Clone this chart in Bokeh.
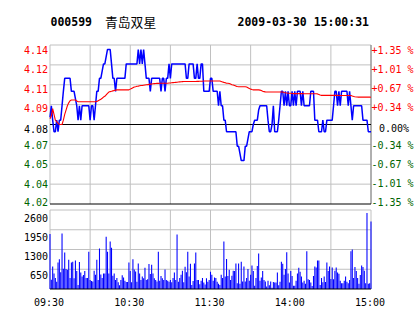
from bokeh.plotting import figure
from bokeh.models import Range1d
from bokeh.embed import file_html
from bokeh.resources import INLINE
from bokeh.core.properties import value

# ---------------- data ----------------
stock_code = "000599"
stock_name = "青岛双星"
stamp = "2009-03-30 15:00:31"
pre_close = 4.08

time_labels = ["09:30", "10:30", "11:30", "14:00", "15:00"]
time_label_minutes = [0, 60, 120, 180, 240]
grid_minutes = [0, 30, 60, 90, 120, 150, 180, 210, 240]

pct_levels = [1.35, 1.01, 0.67, 0.34, 0.00, -0.34, -0.67, -1.01, -1.35]
price_tick_labels = ["4.14", "4.12", "4.11", "4.09", "4.08", "4.07", "4.05", "4.04", "4.02"]
pct_tick_labels = ["+1.35 %", "+1.01 %", "+0.67 %", "+0.34 %", "0.00%",
                   "-0.34 %", "-0.67 %", "-1.01 %", "-1.35 %"]
vol_ticks = [650, 1300, 1950, 2600]
vol_tick_labels = ["650", "1300", "1950", "2600"]

price = [
    4.085, 4.093, 4.083, 4.075, 4.075, 4.083, 4.075, 4.083, 4.083, 4.093,
    4.103, 4.112, 4.112, 4.112, 4.112, 4.112, 4.103, 4.103, 4.103, 4.098,
    4.093, 4.083, 4.093, 4.083, 4.093, 4.093, 4.093, 4.093, 4.093, 4.093,
    4.083, 4.093, 4.093, 4.083, 4.093, 4.103, 4.103, 4.112, 4.112, 4.117,
    4.122, 4.122, 4.127, 4.132, 4.132, 4.132, 4.122, 4.112, 4.112, 4.103,
    4.112, 4.112, 4.112, 4.112, 4.112, 4.112, 4.112, 4.122, 4.122, 4.122,
    4.122, 4.122, 4.122, 4.122, 4.122, 4.122, 4.132, 4.122, 4.132, 4.122,
    4.132, 4.122, 4.112, 4.112, 4.112, 4.103, 4.112, 4.112, 4.112, 4.112,
    4.112, 4.112, 4.112, 4.103, 4.112, 4.112, 4.103, 4.112, 4.112, 4.122,
    4.112, 4.122, 4.122, 4.122, 4.122, 4.122, 4.122, 4.122, 4.122, 4.122,
    4.122, 4.122, 4.112, 4.112, 4.122, 4.122, 4.122, 4.122, 4.112, 4.112,
    4.122, 4.112, 4.112, 4.122, 4.122, 4.103, 4.103, 4.103, 4.103, 4.103,
    4.112, 4.112, 4.103, 4.103, 4.103, 4.103, 4.093, 4.103, 4.093, 4.093,
    4.083, 4.083, 4.075, 4.075, 4.075, 4.075, 4.075, 4.075, 4.075, 4.075,
    4.065, 4.065, 4.060, 4.055, 4.055, 4.055, 4.065, 4.065, 4.070, 4.075,
    4.075, 4.075, 4.080, 4.083, 4.083, 4.083, 4.090, 4.093, 4.093, 4.093,
    4.093, 4.093, 4.093, 4.083, 4.075, 4.075, 4.080, 4.093, 4.075, 4.075,
    4.075, 4.083, 4.093, 4.103, 4.103, 4.093, 4.103, 4.093, 4.103, 4.093,
    4.093, 4.103, 4.093, 4.103, 4.093, 4.103, 4.103, 4.103, 4.093, 4.103,
    4.093, 4.093, 4.093, 4.093, 4.093, 4.103, 4.103, 4.103, 4.083, 4.083,
    4.083, 4.075, 4.075, 4.075, 4.083, 4.075, 4.075, 4.083, 4.083, 4.083,
    4.083, 4.083, 4.093, 4.103, 4.103, 4.093, 4.103, 4.093, 4.103, 4.103,
    4.103, 4.103, 4.103, 4.093, 4.103, 4.093, 4.083, 4.093, 4.093, 4.093,
    4.093, 4.093, 4.093, 4.093, 4.083, 4.083, 4.083, 4.083, 4.075, 4.075,
    4.075,
]

avg_price = [
    4.0840, 4.0860, 4.0910, 4.0870, 4.0830, 4.0820, 4.0810, 4.0800, 4.0800, 4.0800,
    4.0830, 4.0870, 4.0900, 4.0930, 4.0950, 4.0965, 4.0970, 4.0970, 4.0970, 4.0970,
    4.0962, 4.0958, 4.0958, 4.0958, 4.0958, 4.0958, 4.0958, 4.0958, 4.0958, 4.0958,
    4.0958, 4.0958, 4.0958, 4.0958, 4.0958, 4.0960, 4.0965, 4.0970, 4.0975, 4.0982,
    4.0990, 4.0995, 4.1005, 4.1015, 4.1025, 4.1028, 4.1030, 4.1033, 4.1036, 4.1038,
    4.1040, 4.1040, 4.1040, 4.1040, 4.1040, 4.1040, 4.1040, 4.1040, 4.1040, 4.1040,
    4.1045, 4.1050, 4.1055, 4.1060, 4.1062, 4.1065, 4.1066, 4.1068, 4.1070, 4.1070,
    4.1072, 4.1074, 4.1075, 4.1076, 4.1078, 4.1080, 4.1080, 4.1082, 4.1083, 4.1084,
    4.1085, 4.1085, 4.1086, 4.1086, 4.1086, 4.1086, 4.1086, 4.1086, 4.1086, 4.1087,
    4.1088, 4.1089, 4.1090, 4.1091, 4.1092, 4.1093, 4.1094, 4.1095, 4.1096, 4.1097,
    4.1098, 4.1098, 4.1098, 4.1098, 4.1098, 4.1098, 4.1098, 4.1098, 4.1098, 4.1098,
    4.1099, 4.1099, 4.1100, 4.1100, 4.1100, 4.1101, 4.1101, 4.1101, 4.1101, 4.1101,
    4.1101, 4.1101, 4.1101, 4.1101, 4.1101, 4.1101, 4.1101, 4.1101, 4.1098, 4.1095,
    4.1092, 4.1090, 4.1086, 4.1086, 4.1084, 4.1080, 4.1076, 4.1074, 4.1070, 4.1066,
    4.1063, 4.1062, 4.1062, 4.1062, 4.1062, 4.1062, 4.1062, 4.1060, 4.1055, 4.1050,
    4.1045, 4.1042, 4.1040, 4.1040, 4.1040, 4.1040, 4.1040, 4.1038, 4.1035, 4.1030,
    4.1028, 4.1026, 4.1025, 4.1025, 4.1025, 4.1025, 4.1025, 4.1025, 4.1025, 4.1025,
    4.1025, 4.1025, 4.1025, 4.1025, 4.1025, 4.1022, 4.1020, 4.1018, 4.1017, 4.1017,
    4.1016, 4.1015, 4.1014, 4.1014, 4.1014, 4.1014, 4.1014, 4.1014, 4.1014, 4.1014,
    4.1013, 4.1013, 4.1013, 4.1013, 4.1013, 4.1013, 4.1013, 4.1013, 4.1013, 4.1013,
    4.1012, 4.1008, 4.1004, 4.1002, 4.1002, 4.1002, 4.1002, 4.1002, 4.1002, 4.1002,
    4.1002, 4.1002, 4.1002, 4.1002, 4.1002, 4.1002, 4.1001, 4.1001, 4.1001, 4.1001,
    4.1001, 4.1001, 4.1001, 4.1001, 4.1001, 4.1001, 4.0997, 4.0994, 4.0992, 4.0991,
    4.0990, 4.0990, 4.0990, 4.0990, 4.0990, 4.0990, 4.0990, 4.0990, 4.0990, 4.0990,
    4.0989,
]

volume = [
    1810, 306, 740, 510, 360, 240, 870, 980, 550, 1830,
    670, 1200, 660, 630, 960, 360, 870, 900, 350, 940,
    590, 130, 890, 540, 410, 460, 590, 360, 360, 1230,
    300, 260, 250, 600, 470, 960, 300, 1330, 480, 360,
    510, 510, 1720, 1230, 510, 1560, 1360, 440, 510, 300,
    360, 220, 120, 300, 450, 380, 270, 230, 230, 870,
    590, 220, 980, 640, 580, 240, 840, 510, 300, 410,
    350, 700, 300, 320, 820, 490, 800, 510, 350, 300,
    250, 1230, 270, 430, 350, 300, 640, 300, 270, 240,
    300, 220, 360, 540, 300, 1790, 240, 360, 470, 600,
    220, 730, 550, 1230, 410, 830, 130, 260, 840, 1200,
    300, 300, 160, 270, 360, 210, 150, 350, 240, 300,
    570, 470, 270, 380, 360, 240, 170, 130, 470, 360,
    1560, 410, 990, 430, 630, 300, 440, 600, 590, 840,
    190, 840, 170, 900, 250, 740, 250, 360, 660, 270,
    470, 770, 590, 110, 360, 760, 1170, 270, 380,
    590, 300, 250, 80, 270, 120, 250, 40, 230, 210,
    210, 540, 120, 240, 900, 830, 470, 660, 1210, 510,
    210, 590, 430, 110, 110, 270, 510, 700, 570, 410,
    210, 270, 170, 1240, 320, 300, 210, 100, 430, 740,
    710, 940, 940, 130, 360, 220, 410, 230, 870, 590,
    740, 330, 710, 320, 600, 710, 540, 500, 270, 190,
    190, 270, 410, 240, 190, 300, 1240, 1300, 360, 720,
    590, 360, 170, 460, 770, 720, 600, 190, 2500, 170,
    190, 2220,
]

minutes = list(range(len(price)))
vol_minutes = list(range(len(volume)))

# ---------------- layout (pixels) ----------------
W, H = 414, 314
X0, X1 = 49.5, 370.5          # minute 0 and minute 240
PY_TOP, PY_BOT = 44.5, 203.5  # +1.35 % and -1.35 %
VY_TOP, VY_BOT = 209.5, 288.5 # 2600 and 0

RED = "#FF0000"
GREEN = "#006400"
BLUE = "#0000FF"
GRID = "#C0C0C0"
MONO = value("DejaVu Sans Mono")

p_top = pre_close * (1 + pct_levels[0] / 100.0)
p_bot = pre_close * (1 + pct_levels[-1] / 100.0)
grid_prices = [pre_close * (1 + (pct_levels[0] / 4.0) * k / 100.0) for k in (4, 3, 2, 1, 0, -1, -2, -3, -4)]

mpp = 240.0 / (X1 - X0)
ppp = (p_top - p_bot) / (PY_BOT - PY_TOP)
vpp = vol_ticks[-1] / (VY_BOT - VY_TOP)

p = figure(width=W, height=H, title=None,
           x_range=Range1d(0 - X0 * mpp, 240 + (W - X1) * mpp),
           y_range=Range1d(p_bot - (H - PY_BOT) * ppp, p_top + PY_TOP * ppp),
           output_backend="svg", toolbar_location=None,
           x_axis_location=None, y_axis_location=None,
           min_border=0, min_border_left=0, min_border_right=0,
           min_border_top=0, min_border_bottom=0,
           outline_line_color=None, background_fill_color="white",
           border_fill_color="white")
p.extra_y_ranges = {
    "vol": Range1d(0 - (H - VY_BOT) * vpp, vol_ticks[-1] + VY_TOP * vpp),
    "px": Range1d(H, 0),
}
p.extra_x_ranges = {"px": Range1d(0, W)}
p.grid.visible = False

# ---- grids (price panel)
p.segment(x0=grid_minutes, x1=grid_minutes, y0=[p_bot] * len(grid_minutes),
          y1=[p_top] * len(grid_minutes), line_color=GRID, line_width=1)
gray_rows = [g for i, g in enumerate(grid_prices) if i not in (4, 8)]
p.segment(x0=[0] * len(gray_rows), x1=[240] * len(gray_rows), y0=gray_rows, y1=gray_rows,
          line_color=GRID, line_width=1)
p.segment(x0=[240], x1=[240], y0=[p_bot], y1=[p_top], line_color="#808080", line_width=1)
p.segment(x0=[0, 0], x1=[240, 240], y0=[pre_close, p_bot], y1=[pre_close, p_bot],
          line_color="black", line_width=1)

# ---- grids (volume panel)
p.segment(x0=grid_minutes, x1=grid_minutes, y0=[0] * len(grid_minutes),
          y1=[vol_ticks[-1]] * len(grid_minutes), line_color=GRID, line_width=1,
          y_range_name="vol")
p.segment(x0=[0] * len(vol_ticks), x1=[240] * len(vol_ticks), y0=vol_ticks, y1=vol_ticks,
          line_color=GRID, line_width=1, y_range_name="vol")

# ---- data
p.vbar(x=vol_minutes, top=volume, bottom=0, width=0.8, fill_color=BLUE,
       line_color=None, y_range_name="vol")
p.segment(x0=[0], x1=[240], y0=[0], y1=[0], line_color="black", line_width=1,
          y_range_name="vol")
p.line(minutes, price, line_color=BLUE, line_width=1.5)
p.line(minutes, avg_price, line_color=RED, line_width=1.1)

# ---- texts (pixel positions)
FS = 10
def base(center, size):
    return center + 0.365 * size

label_centers = [46.0, 65.0, 84.8, 103.8, 124.5, 141.3, 160.0, 179.6, 198.2]
colors = [RED] * 4 + ["black"] + [GREEN] * 4
right_x = [371.0] * 4 + [378.5] + [371.0] * 4
p.text(x=[47.5] * 9, y=[base(c, FS) for c in label_centers], text=price_tick_labels,
       text_color=colors, text_font=MONO, text_font_size=f"{FS}px",
       text_align="right", text_baseline="alphabetic",
       x_range_name="px", y_range_name="px")
p.text(x=right_x, y=[base(c, FS) for c in label_centers], text=pct_tick_labels,
       text_color=colors, text_font=MONO, text_font_size=f"{FS}px",
       text_align="left", text_baseline="alphabetic",
       x_range_name="px", y_range_name="px")

vol_centers = [271.3, 252.2, 233.0, 213.7]
p.text(x=[47.5] * 4, y=[base(c, FS) for c in vol_centers], text=vol_tick_labels,
       text_color="black", text_font=MONO, text_font_size=f"{FS}px",
       text_align="right", text_baseline="alphabetic",
       x_range_name="px", y_range_name="px")

p.text(x=time_label_minutes, y=[base(298.0, FS)] * len(time_labels), text=time_labels,
       x_offset=-1.0, text_color="black", text_font=MONO, text_font_size=f"{FS}px",
       text_align="center", text_baseline="alphabetic", y_range_name="px")

p.text(x=[50.0, 237.0], y=[21.0, 21.0], text=[stock_code, stamp],
       text_color="black", text_font=MONO, text_font_size="11.5px", text_font_style="bold",
       text_align="left", text_baseline="alphabetic",
       x_range_name="px", y_range_name="px")
p.text(x=[104.5], y=[21.0], text=[stock_name],
       text_color="black", text_font=value("Noto Sans CJK SC"), text_font_size="12.8px",
       text_align="left", text_baseline="alphabetic",
       x_range_name="px", y_range_name="px")

open("out.html", "w").write(file_html(p, INLINE))
